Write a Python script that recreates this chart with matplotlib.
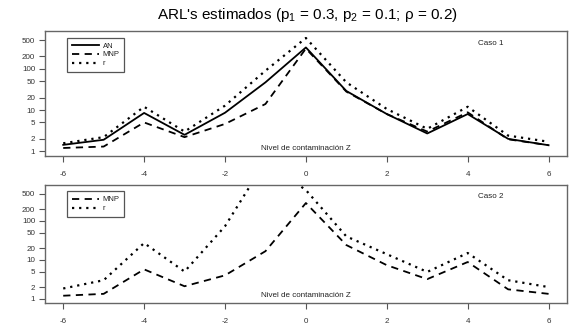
import matplotlib
matplotlib.use('Agg')
import matplotlib.pyplot as plt

plt.rcParams['font.family'] = ['Liberation Sans', 'DejaVu Sans']
plt.rcParams['mathtext.fontset'] = 'custom'
plt.rcParams['mathtext.rm'] = 'Liberation Sans'
plt.rcParams['mathtext.it'] = 'Liberation Sans'
plt.rcParams['axes.unicode_minus'] = False

# Nivel de contaminacion Z
z = [-6, -5, -4, -3, -2, -1, 0, 1, 2, 3, 4, 5, 6]

# Caso 1
an1 = [1.43, 1.9, 8.5, 2.5, 8.6, 47, 330, 29, 8.0, 2.7, 8.0, 2.0, 1.4]
mnp1 = [1.2, 1.3, 5.0, 2.2, 4.6, 14, 310, 28, 8.0, 3.0, 8.8, 1.95, 1.4]
r1 = [1.56, 2.2, 12, 3.0, 12.8, 90, 560, 47, 10.6, 3.5, 12, 2.4, 1.7]

# Caso 2
mnp2 = [1.2, 1.34, 5.7, 2.1, 4.0, 16.7, 288, 24, 7.3, 3.2, 8.8, 1.75, 1.34]
r2 = [1.84, 3.0, 27, 5.0, 73, 3400, 620, 40, 14, 4.9, 15, 3.0, 2.0]

yticks = [1, 2, 5, 10, 20, 50, 100, 200, 500]
xticks = [-6, -4, -2, 0, 2, 4, 6]

fig = plt.figure(figsize=(5.69, 3.28), dpi=100)
ax1 = fig.add_axes([0.0791, 0.5253, 0.917, 0.381])
ax2 = fig.add_axes([0.0791, 0.0762, 0.917, 0.360])

def style(ax, caso):
    ax.set_yscale('log')
    ax.set_ylim(0.78, 840)
    ax.set_xlim(-6.45, 6.45)
    ax.set_yticks(yticks)
    ax.set_yticklabels([str(t) for t in yticks])
    ax.minorticks_off()
    ax.set_xticks(xticks)
    ax.tick_params(labelsize=5.8, length=4, width=0.8, color='#555555',
                   labelcolor='#333333', pad=3)
    ax.tick_params(axis='x', pad=7)
    for s in ax.spines.values():
        s.set_color('#666666')
        s.set_linewidth(1.0)
    ax.text(0, 0.06, 'Nivel de contaminación Z', transform=ax.get_xaxis_transform(),
            ha='center', va='center', fontsize=5.8, color='#222222')
    ax.text(0.855, 0.90, caso, transform=ax.transAxes, ha='center', va='center',
            fontsize=5.8, color='#222222')

ax1.plot(z, an1, color='black', lw=1.3, label='AN')
ax1.plot(z, mnp1, color='black', lw=1.3, dashes=(4, 3), label='MNP')
ax1.plot(z, r1, color='black', lw=1.6, dashes=(1, 2.2), label='r')
style(ax1, 'Caso 1')

ax2.plot(z, mnp2, color='black', lw=1.3, dashes=(4, 3), label='MNP')
ax2.plot(z, r2, color='black', lw=1.6, dashes=(1, 2.2), label='r')
style(ax2, 'Caso 2')

for ax in (ax1, ax2):
    leg = ax.legend(loc='upper left', bbox_to_anchor=(0.042, 0.945), fontsize=5.5,
                    fancybox=False, framealpha=1, edgecolor='#555555',
                    handlelength=3.6, handletextpad=0.5, labelspacing=0.2,
                    borderpad=0.6, borderaxespad=0)
    leg.get_frame().set_linewidth(0.9)
    for t in leg.get_texts():
        t.set_color('#222222')

fig.text(0.54, 0.955, "ARL's estimados (p$_1$ = 0.3, p$_2$ = 0.1; ρ = 0.2)",
         ha='center', va='center', fontsize=11)

fig.savefig('out.png', dpi=100)
